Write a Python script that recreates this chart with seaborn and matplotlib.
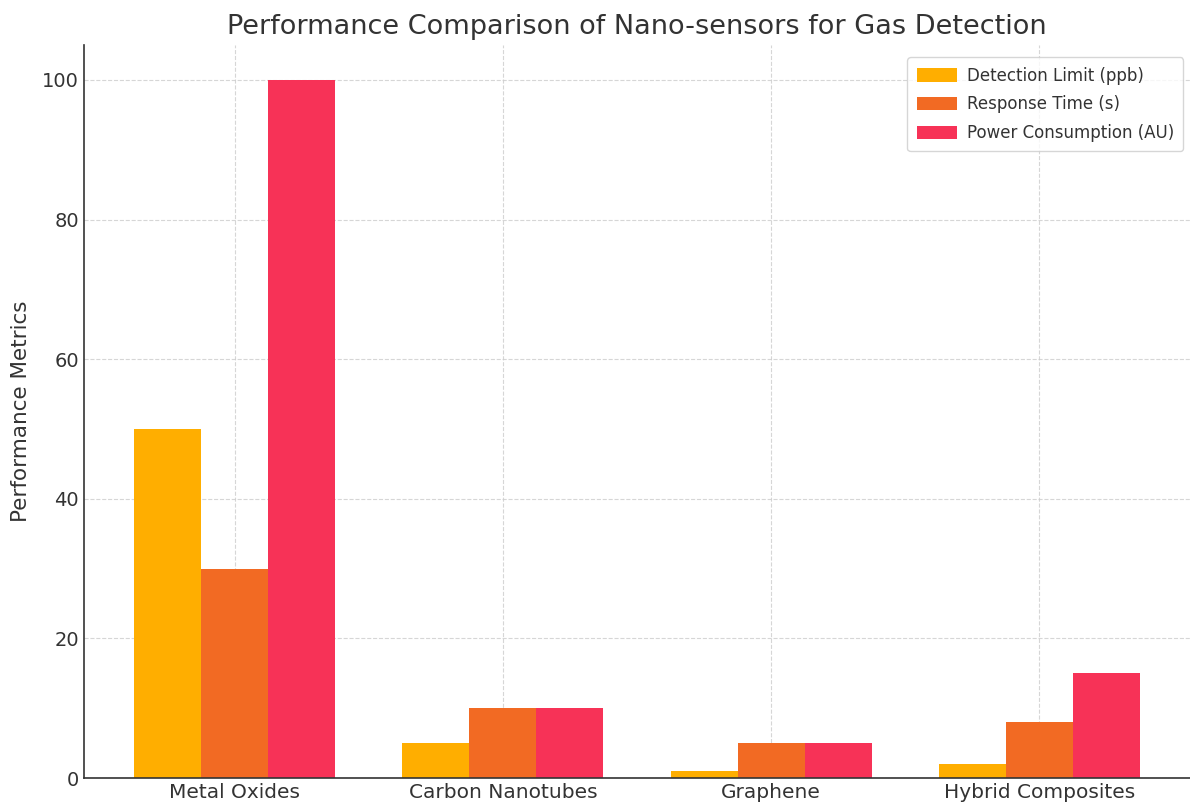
import matplotlib
matplotlib.use("Agg")
import matplotlib.pyplot as plt
import seaborn as sns
import pandas as pd

categories = ["Metal Oxides", "Carbon Nanotubes", "Graphene", "Hybrid Composites"]
metrics = ["Detection Limit (ppb)", "Response Time (s)", "Power Consumption (AU)"]
detection_limit = [50, 5, 1, 2]
response_time = [30, 10, 5, 8]
power_consumption = [100, 10, 5, 15]
colors = ["#FFAE00", "#F26A23", "#F73257"]

rows = []
for m, vals in zip(metrics, [detection_limit, response_time, power_consumption]):
    for c, v in zip(categories, vals):
        rows.append({"Sensor": c, "Metric": m, "Value": v})
df = pd.DataFrame(rows)

sns.set_style("white")
plt.rcParams['font.family'] = ['DejaVu Sans']
text_color = "#333333"

fig = plt.figure(figsize=(11.9, 8.09), dpi=100)
ax = fig.add_axes([0.0706, 0.0383, 0.9294, 0.906])

sns.barplot(data=df, x="Sensor", y="Value", hue="Metric", palette=colors,
            width=0.75, gap=0, saturation=1, ax=ax, errorbar=None,
            edgecolor="none", linewidth=0)

ax.set_xlim(-0.5625, 3.5625)
ax.set_ylim(0, 105)
ax.set_yticks([0, 20, 40, 60, 80, 100])
ax.grid(True, linestyle="--", color="#cccccc", linewidth=0.8, alpha=0.8)
ax.set_axisbelow(True)

for s in ["top", "right"]:
    ax.spines[s].set_visible(False)
for s in ["left", "bottom"]:
    ax.spines[s].set_color("#333333")
    ax.spines[s].set_linewidth(1.2)

ax.tick_params(axis="both", direction="in", length=5, colors="#333333",
               labelcolor=text_color)
ax.tick_params(axis="y", labelsize=14)
ax.tick_params(axis="x", labelsize=14.5)
ax.set_xlabel("")
ax.set_ylabel("Performance Metrics", fontsize=15.5, color=text_color, labelpad=8)
ax.set_title("Performance Comparison of Nano-sensors for Gas Detection",
             fontsize=19.5, color=text_color, pad=8)

leg = ax.legend(loc="upper right", fontsize=12, frameon=True, title=None,
                handlelength=2.4, handleheight=0.85, labelspacing=0.65,
                borderpad=0.55, handletextpad=0.6,
                bbox_to_anchor=(1.0012, 0.9944))
leg.get_frame().set_edgecolor("#cccccc")
for t in leg.get_texts():
    t.set_color(text_color)

fig.savefig("out.png", dpi=100)
